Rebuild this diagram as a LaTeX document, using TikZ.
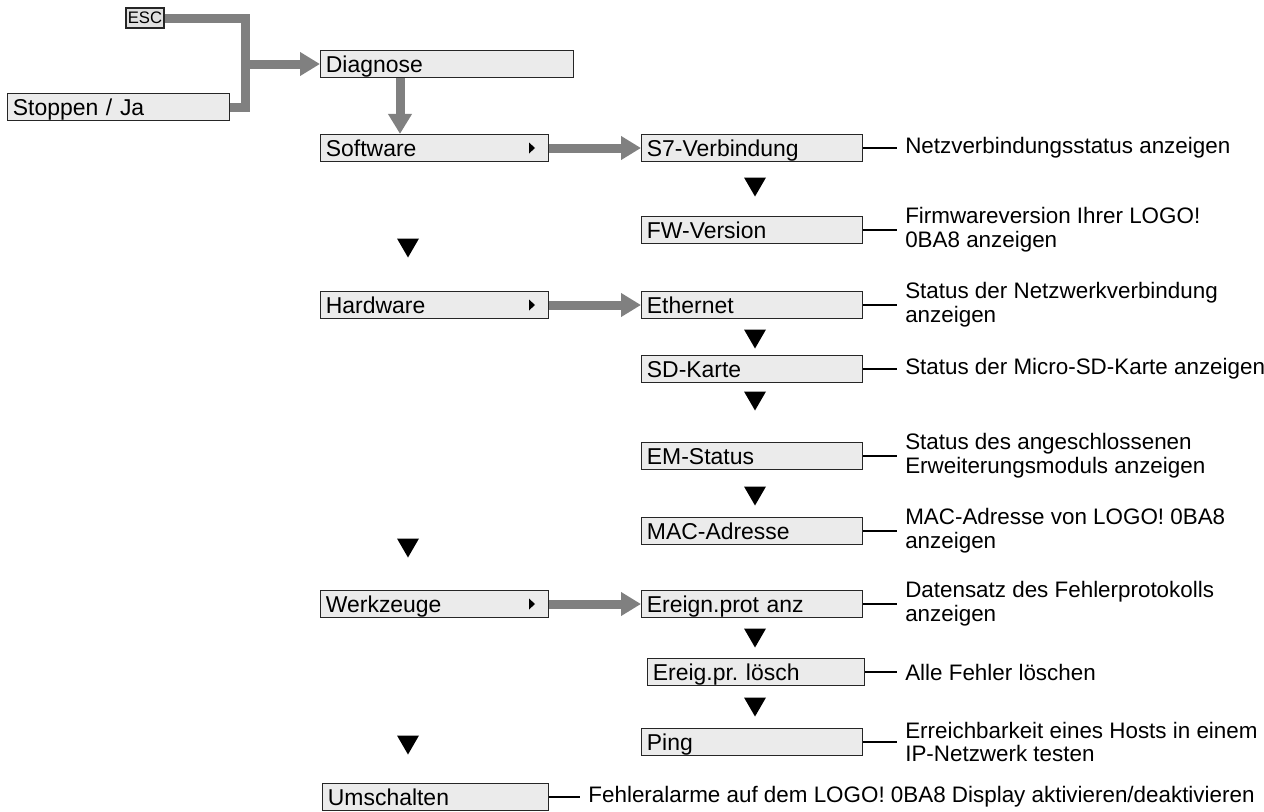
\documentclass[tikz,border=0pt]{standalone}
\usepackage{fontspec}
\setmainfont{Liberation Sans}
\usetikzlibrary{arrows.meta}
\frenchspacing

\begin{document}
\begin{tikzpicture}[
	x=0.75pt, y=-0.75pt,
	>={Triangle[length=15pt,width=17pt]},
	every node/.style = {font=\fontsize{16.8}{17.8}\selectfont},
	menu/.style = {draw=black!85, line width=0.9pt, fill=black!8, anchor=west,
		minimum height=20.25pt, inner xsep=4pt, inner ysep=0pt, align=left,
		text height=14pt, text depth=2pt, font=\fontsize{17.2}{18}\selectfont},
	lbox/.style = {menu, text width=163pt},
	rbox/.style = {menu, text width=157.75pt},
	desc/.style = {anchor=west, align=left, inner xsep=6pt, inner ysep=0pt},
	flow/.style = {draw=black!50, line width=6.75pt},
	tick/.style = {draw=black, line width=1.1pt}
	]
	\useasboundingbox (0,0) rectangle (1264,811);

	%--- left column ---
	\node[draw=black!85, line width=0.9pt, fill=black!12, minimum width=28.5pt,
		minimum height=15pt, inner sep=0pt, font=\fontsize{12.5}{13}\selectfont] (esc) at (145,18) {ESC};
	\node[menu, text width=158.5pt]  (stop) at (7,107)   {Stoppen / Ja};
	\node[menu, text width=181.75pt] (diag) at (320,64)  {Diagnose};
	\node[lbox] (sw) at (320,148) {Software};
	\node[lbox] (hw) at (320,305) {Hardware};
	\node[lbox] (wz) at (320,604) {Werkzeuge};
	\node[lbox, text width=161.5pt] (um) at (322,797) {Umschalten};

	%--- right column ---
	\node[rbox] (s7)   at (641,148) {S7-Verbindung};
	\node[rbox] (fw)   at (641,230) {FW-Version};
	\node[rbox] (eth)  at (641,305) {Ethernet};
	\node[rbox] (sd)   at (641,369) {SD-Karte};
	\node[rbox] (em)   at (641,456) {EM-Status};
	\node[rbox] (mac)  at (641,531) {MAC-Adresse};
	\node[rbox] (evt)  at (641,604) {Ereign.prot anz};
	\node[rbox, text width=154.75pt] (del) at (647,672) {Ereig.pr. lösch};
	\node[rbox] (ping) at (641,742) {Ping};

	%--- descriptions ---
	\coordinate (descx) at (897,0);
	\foreach \b/\t in {s7/{Netzverbindungsstatus anzeigen},
		fw/{Firmwareversion Ihrer LOGO!\\0BA8 anzeigen},
		eth/{Status der Netzwerkverbindung\\anzeigen},
		sd/{Status der Micro-SD-Karte anzeigen},
		em/{Status des angeschlossenen\\Erweiterungsmoduls anzeigen},
		mac/{MAC-Adresse von LOGO! 0BA8\\anzeigen},
		evt/{Datensatz des Fehlerprotokolls\\anzeigen},
		del/{Alle Fehler löschen},
		ping/{Erreichbarkeit eines Hosts in einem\\IP-Netzwerk testen}}
	{
		\node[desc] (\b-d) at (\b.east -| descx) {\t};
		\draw[tick] (\b.east) -- (\b-d.west);
	}
	\node[desc] (um-d) at ([xshift=23.25pt]um.east) {Fehleralarme auf dem LOGO! 0BA8 Display aktivieren/deaktivieren};
	\draw[tick] (um.east) -- (um-d.west);

	%--- grey flow arrows ---
	\coordinate (jn) at ([xshift=-56.25pt]diag.west);
	\draw[flow] (esc.east) -| (jn) |- (stop.east);
	\draw[flow,->] (jn) -- (diag.west);
	\draw[flow,->] ([xshift=60pt]diag.south west) -- ([xshift=60pt]sw.north west);
	\draw[flow,->] (sw.east) -- (s7.west);
	\draw[flow,->] (hw.east) -- (eth.west);
	\draw[flow,->] (wz.east) -- (evt.west);

	%--- submenu marks ---
	\foreach \b in {sw,hw,wz}
		\fill ([xshift=156.75pt]\b.west) ++(0,-5.5) -- ++(6,5.5) -- ++(-6,5.5) -- cycle;

	%--- scroll marks ---
	\foreach \x/\y in {408/248, 408/548, 408/745, 755/187, 755/339, 755/401,
		755/496, 755/638, 755/707}
		\fill (\x-11,\y-9.5) -- ++(22,0) -- ++(-11,19) -- cycle;
\end{tikzpicture}
\end{document}
